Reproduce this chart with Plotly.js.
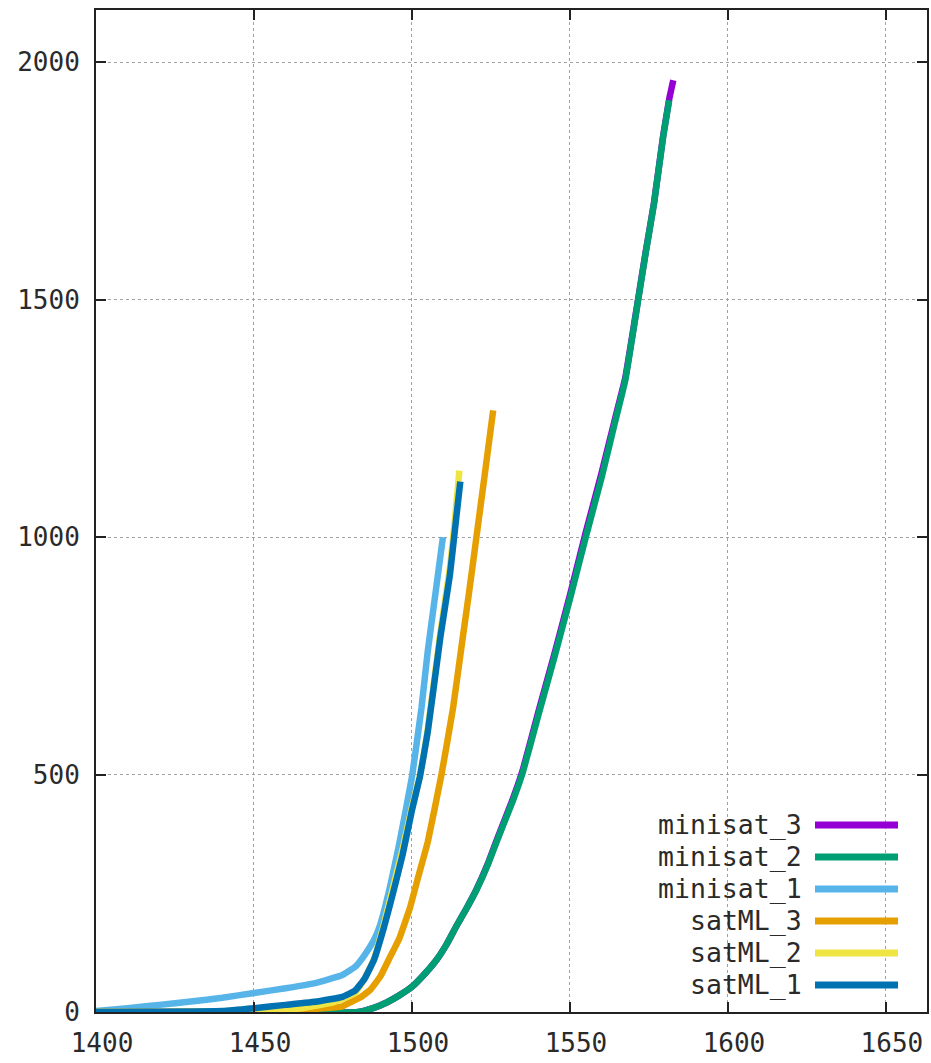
<!DOCTYPE html>
<html>
<head>
<meta charset="utf-8">
<script src="https://cdn.plot.ly/plotly-3.0.1.min.js"></script>
<style>html,body{margin:0;padding:0;background:#fff;}#chart{width:931px;height:1063px;}</style>
</head>
<body>
<div id="chart"></div>
<script>
// Series names (legend order, also draw order)
var seriesNames = ["minisat_3", "minisat_2", "minisat_1", "satML_3", "satML_2", "satML_1"];
var seriesColors = ["#9400d3", "#009e73", "#56b4e9", "#e69f00", "#f0e442", "#0072b2"];

// minisat_3
var minisat3X = [1400, 1483, 1487.7, 1492, 1496, 1500, 1504, 1507.8, 1511, 1514, 1517, 1520.4, 1524, 1527, 1532, 1535, 1540, 1545, 1550, 1555, 1560, 1564, 1567.5, 1571.6, 1574, 1576.6, 1579.5, 1581.4, 1582.7];
var minisat3Y = [0, 0, 8, 20, 35, 53, 80, 110, 143, 180, 215, 258, 312, 365, 450, 508, 632, 752, 878, 1010, 1135, 1242, 1335, 1502, 1602, 1704, 1845, 1922, 1962];
// minisat_2
var minisat2X = [1400, 1483, 1487.7, 1492, 1496, 1500, 1504, 1507.8, 1511, 1514, 1517, 1520.4, 1524, 1527, 1532, 1535, 1540, 1545, 1550, 1555, 1560, 1564, 1567.5, 1571.6, 1574, 1576.6, 1579.5, 1581.4];
var minisat2Y = [0, 0, 8, 20, 35, 53, 80, 110, 143, 180, 215, 257, 310, 362, 446, 503, 625, 745, 870, 1000, 1125, 1235, 1330, 1500, 1600, 1702, 1843, 1920];
// minisat_1
var minisat1X = [1400, 1410, 1420, 1430, 1440, 1450, 1460, 1470, 1478, 1482, 1485, 1488, 1490, 1493, 1496, 1500, 1503, 1505, 1507, 1509.8];
var minisat1Y = [2, 8, 15, 22, 30, 40, 50, 62, 78, 95, 120, 152, 185, 262, 355, 495, 640, 760, 860, 1000];
// satML_3
var satML3X = [1400, 1450, 1460, 1470, 1478, 1481, 1484, 1487, 1490, 1493, 1496, 1499.4, 1502, 1505, 1509.4, 1513, 1516, 1518, 1520.4, 1523, 1525.7];
var satML3Y = [0, 1, 3, 7, 12, 22, 32, 48, 75, 115, 155, 220, 285, 358, 502, 640, 785, 880, 1000, 1130, 1267];
// satML_2
var satML2X = [1400, 1455, 1465, 1475, 1482, 1485, 1488, 1491, 1494, 1497, 1500, 1502.5, 1505, 1509, 1512, 1513.5, 1515];
var satML2Y = [0, 2, 8, 20, 40, 70, 112, 182, 262, 342, 432, 497, 595, 800, 935, 1030, 1140];
// satML_1
var satML1X = [1400, 1440, 1450, 1460, 1470, 1478, 1482, 1485, 1488, 1491, 1494, 1497, 1500, 1502.5, 1505, 1509, 1512, 1514, 1515.3];
var satML1Y = [0, 2, 8, 15, 22, 32, 45, 70, 110, 175, 250, 330, 425, 495, 590, 790, 920, 1040, 1117];

// Axis ticks
var xTicks = [1400, 1450, 1500, 1550, 1600, 1650];
var yTicks = [0, 500, 1000, 1500, 2000];

var xs = [minisat3X, minisat2X, minisat1X, satML3X, satML2X, satML1X];
var ys = [minisat3Y, minisat2Y, minisat1Y, satML3Y, satML2Y, satML1Y];

var traces = [];
for (var i = 0; i < seriesNames.length; i++) {
  traces.push({
    type: "scatter", mode: "lines", name: seriesNames[i],
    x: xs[i], y: ys[i],
    line: {color: seriesColors[i], width: 6.5, shape: "spline", smoothing: 0.3}
  });
}

var W = 931, H = 1063;
var mL = 96, mR = 4, mT = 10, mB = 51;
var pw = W - mL - mR, ph = H - mT - mB;
var FONT = "DejaVu Sans Mono, monospace";
var TXT = "#2a2a2a";

// gnuplot-style key: text right-aligned, line sample on the right
var annotations = [], shapes = [];
var rowTop = 825, rowStep = 32;
for (var k = 0; k < seriesNames.length; k++) {
  var py = rowTop + k * rowStep;
  var yy = (mT + ph - py) / ph;
  annotations.push({
    xref: "paper", yref: "paper", x: (804 - mL) / pw, y: yy,
    xanchor: "right", yanchor: "middle", showarrow: false,
    text: seriesNames[k], font: {family: FONT, size: 26.5, color: TXT}
  });
  shapes.push({
    type: "line", xref: "paper", yref: "paper",
    x0: (815 - mL) / pw, x1: (898 - mL) / pw, y0: yy, y1: yy,
    line: {color: seriesColors[k], width: 7}
  });
}

var layout = {
  width: W, height: H,
  margin: {l: mL, r: mR, t: mT, b: mB, pad: 0},
  paper_bgcolor: "#fff", plot_bgcolor: "#fff",
  showlegend: false,
  font: {family: FONT, size: 26, color: TXT},
  xaxis: {
    range: [1400, 1663], tickvals: xTicks, ticktext: xTicks.map(String),
    ticks: "inside", ticklen: 10, tickwidth: 2, tickcolor: "#222",
    showline: true, linecolor: "#222", linewidth: 2, mirror: "ticks",
    showgrid: true, gridcolor: "#a0a0a0", gridwidth: 1, griddash: "3px,3px",
    zeroline: false, ticklabelstandoff: 7, ticklabelshift: 6,
    tickfont: {family: FONT, size: 26, color: TXT}
  },
  yaxis: {
    range: [0, 2110], tickvals: yTicks, ticktext: yTicks.map(String),
    ticks: "inside", ticklen: 10, tickwidth: 2, tickcolor: "#222",
    showline: true, linecolor: "#222", linewidth: 2, mirror: "ticks",
    showgrid: true, gridcolor: "#a0a0a0", gridwidth: 1, griddash: "3px,3px",
    zeroline: false, ticklabelstandoff: 9,
    tickfont: {family: FONT, size: 26, color: TXT}
  },
  annotations: annotations,
  shapes: shapes
};

Plotly.newPlot("chart", traces, layout, {displayModeBar: false, staticPlot: true});
</script>
</body>
</html>
